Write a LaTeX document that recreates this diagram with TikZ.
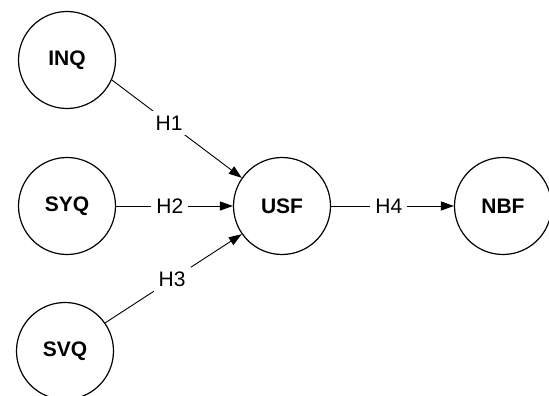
\documentclass[tikz,border=0pt]{standalone}
\usepackage{fontspec}
\setmainfont{Liberation Sans}
\usetikzlibrary{arrows.meta}

\begin{document}
\begin{tikzpicture}[x=1pt,y=-1pt,
  construct/.style={draw, circle, line width=1.2pt, minimum size=97pt, inner sep=0pt, font=\fontsize{21}{25}\selectfont\bfseries},
  path/.style={line width=0.9pt, -{Triangle[length=13pt,width=9pt]}},
  hyp/.style={fill=white, inner sep=5pt, font=\fontsize{21}{25}\selectfont}]

\useasboundingbox (0,0) rectangle (549,396);
\coordinate (A) at (67,60);
\coordinate (B) at (67,206);
\coordinate (C) at (65,351);
\coordinate (D) at (282,206);
\coordinate (E) at (503,206);


\node [construct] (INQ) at (A) {INQ};
\node [construct] (SYQ) at (B) {SYQ};
\node [construct] (SVQ) at (C) {SVQ};
\node [construct] (USF) at (D) {USF};
\node [construct] (NBF) at (E) {NBF};
\draw [path] (INQ.-24) -- node [hyp, pos=0.44] {H1} (USF.145);
\draw [path] (SYQ) -- node [hyp, pos=0.46] {H2} (USF);
\draw [path] (SVQ.35) -- node [hyp, pos=0.49] {H3} (USF.215);
\draw [path] (USF) -- node [hyp, pos=0.47] {H4} (NBF);
\end{tikzpicture}
\end{document}
